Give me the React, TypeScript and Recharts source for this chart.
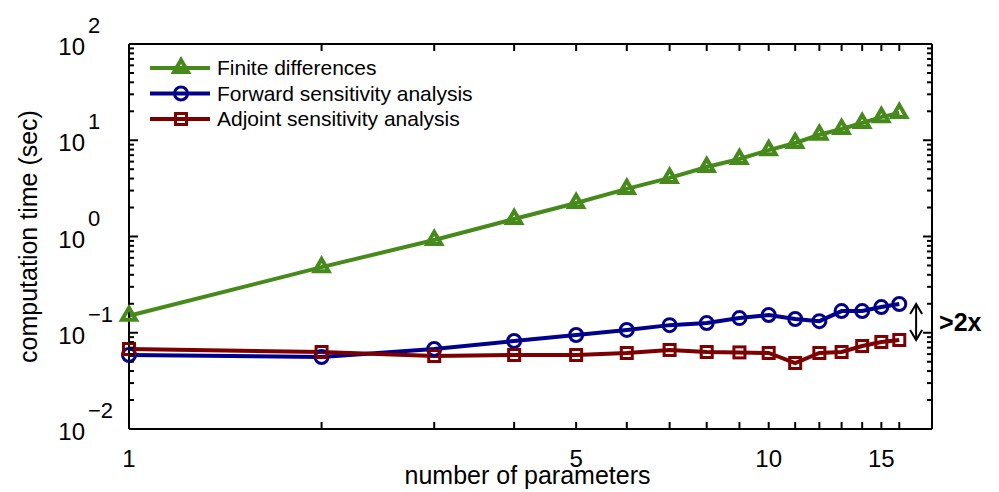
import React from "react";
import { Legend, Line, LineChart, ReferenceLine, XAxis, YAxis } from "recharts";

// number of parameters vs computation time (sec)
const params = [1, 2, 3, 4, 5, 6, 7, 8, 9, 10, 11, 12, 13, 14, 15, 16];
const finiteDiff = [0.15, 0.48, 0.92, 1.52, 2.23, 3.12, 4.06, 5.27, 6.39, 7.9, 9.36, 11.4, 13.1, 15.1, 17.4, 19.2];
const forwardSens = [0.0587, 0.056, 0.0678, 0.0821, 0.0948, 0.107, 0.12, 0.126, 0.142, 0.153, 0.139, 0.132, 0.168, 0.168, 0.185, 0.199];
const adjointSens = [0.0678, 0.0631, 0.0573, 0.0587, 0.0587, 0.0616, 0.0662, 0.0631, 0.0625, 0.0616, 0.0485, 0.0616, 0.0631, 0.0728, 0.0802, 0.0841];

const xTicks = [1, 2, 3, 4, 5, 6, 7, 8, 9, 10, 11, 12, 13, 14, 15, 16];
const xTickLabels = [1, 5, 10, 15];
const yTicks = [
  0.01, 0.02, 0.03, 0.04, 0.05, 0.06, 0.07, 0.08, 0.09,
  0.1, 0.2, 0.3, 0.4, 0.5, 0.6, 0.7, 0.8, 0.9,
  1, 2, 3, 4, 5, 6, 7, 8, 9,
  10, 20, 30, 40, 50, 60, 70, 80, 90,
  100,
];
const yMajorValues = [0.01, 0.1, 1, 10, 100];
const yMajorExponents = ["\u22122", "\u22121", "0", "1", "2"];

const ARROW_AT = 17;
const FONT = "'Liberation Sans', Arial, Helvetica, sans-serif";

const GREEN = "#468a1c";
const BLUE = "#00008c";
const RED = "#7c0000";

const series = [
  { key: "fd", name: "Finite differences", color: GREEN, marker: "triangle" },
  { key: "fwd", name: "Forward sensitivity analysis", color: BLUE, marker: "circle" },
  { key: "adj", name: "Adjoint sensitivity analysis", color: RED, marker: "square" },
];

const rows = params.map((n, i) => ({ n, fd: finiteDiff[i], fwd: forwardSens[i], adj: adjointSens[i] }));

function Marker({ cx, cy, kind, color }: { cx: number; cy: number; kind: string; color: string }) {
  if (kind === "triangle") {
    const s = 14;
    const h = (s * Math.sqrt(3)) / 2;
    const pts = `${cx},${cy - (2 * h) / 3} ${cx - s / 2},${cy + h / 3} ${cx + s / 2},${cy + h / 3}`;
    return <polygon points={pts} fill="none" stroke={color} strokeWidth={4} strokeLinejoin="miter" />;
  }
  if (kind === "circle") {
    return <circle cx={cx} cy={cy} r={6.5} fill="none" stroke={color} strokeWidth={3} />;
  }
  return <rect x={cx - 5.5} y={cy - 5.5} width={11} height={11} fill="none" stroke={color} strokeWidth={3} />;
}

const dotFor = (kind: string, color: string) => (p: any) => {
  if (p.cx == null || p.cy == null) return <g key={p.index} />;
  return (
    <g key={p.index}>
      <Marker cx={p.cx} cy={p.cy} kind={kind} color={color} />
    </g>
  );
};

// axis frame sits on the plot edge; ticks point inward
function BottomTick(p: any) {
  const v = p.payload.value;
  const x = Number(p.x);
  const y = Number(p.y);
  return (
    <g>
      <path d={`M${x},${y}V${y - 7}`} stroke="#000" strokeWidth={2} fill="none" />
      {xTickLabels.includes(v) && (
        <text x={x} y={y + 38} textAnchor="middle" fontSize={24} fontFamily={FONT} fill="#000">
          {v}
        </text>
      )}
    </g>
  );
}

function TopTick(p: any) {
  const x = Number(p.x);
  const y = Number(p.y);
  return <path d={`M${x},${y}V${y + 7}`} stroke="#000" strokeWidth={2} fill="none" />;
}

function LeftTick(p: any) {
  const idx = yMajorValues.indexOf(p.payload.value);
  const len = idx >= 0 ? 9 : 5;
  const x = Number(p.x);
  const y = Number(p.y);
  return (
    <g>
      <path d={`M${x},${y}H${x + len}`} stroke="#000" strokeWidth={2} fill="none" />
      {idx >= 0 && (
        <g fontFamily={FONT} fill="#000">
          <text x={x - 44} y={y + 11} textAnchor="end" fontSize={24}>
            10
          </text>
          <text x={x - 41} y={y - 11} textAnchor="start" fontSize={22}>
            {yMajorExponents[idx]}
          </text>
        </g>
      )}
    </g>
  );
}

function RightTick(p: any) {
  const len = yMajorValues.includes(p.payload.value) ? 9 : 5;
  const x = Number(p.x);
  const y = Number(p.y);
  return <path d={`M${x},${y}H${x - len}`} stroke="#000" strokeWidth={2} fill="none" />;
}

// double-headed arrow between the last forward and adjoint points, with the ratio note
function RatioArrow(p: any) {
  const x = p.x1;
  const top = Math.min(p.y1, p.y2);
  const bot = Math.max(p.y1, p.y2);
  return (
    <g>
      <line x1={x} y1={top} x2={x} y2={bot} stroke="#000" strokeWidth={2} />
      <polyline points={`${x - 6},${top + 10} ${x},${top} ${x + 6},${top + 10}`} fill="none" stroke="#000" strokeWidth={2} />
      <polyline points={`${x - 6},${bot - 10} ${x},${bot} ${x + 6},${bot - 10}`} fill="none" stroke="#000" strokeWidth={2} />
      <text x={x + 23} y={(top + bot) / 2 + 9} fontSize={25} fontWeight="bold" fontFamily={FONT} fill="#000">
        {">2x"}
      </text>
    </g>
  );
}

function LegendBox() {
  return (
    <svg width={360} height={80}>
      {series.map((s, i) => {
        const y = 13 + i * 25.5;
        return (
          <g key={s.key}>
            <line x1={0} y1={y} x2={60} y2={y} stroke={s.color} strokeWidth={4} />
            <Marker cx={31} cy={y} kind={s.marker} color={s.color} />
            <text x={67} y={y + 7} fontSize={21} fontFamily={FONT} fill="#000">
              {s.name}
            </text>
          </g>
        );
      })}
    </svg>
  );
}

const axisLine = { stroke: "#000", strokeWidth: 2 };

export default function App() {
  return (
    <div style={{ position: "absolute", left: 0, top: 0, width: 999, height: 492, background: "#fff" }}>
      <LineChart width={999} height={492} data={rows} margin={{ top: 43, right: 66, bottom: 62, left: 128 }}>
        <XAxis
          dataKey="n"
          type="number"
          scale="log"
          domain={[1, 18]}
          ticks={xTicks}
          interval={0}
          height={1}
          tickSize={0}
          tickMargin={0}
          tickLine={false}
          axisLine={axisLine}
          tick={<BottomTick />}
          label={{
            content: (lp: any) => {
              const vb = lp.viewBox;
              return (
                <text x={vb.x + vb.width / 2 - 3} y={vb.y + 55} textAnchor="middle" fontSize={25} fontFamily={FONT} fill="#000">
                  number of parameters
                </text>
              );
            },
          }}
        />
        <XAxis
          xAxisId="top"
          orientation="top"
          dataKey="n"
          type="number"
          scale="log"
          domain={[1, 18]}
          ticks={xTicks}
          interval={0}
          height={1}
          tickSize={0}
          tickMargin={0}
          tickLine={false}
          axisLine={axisLine}
          tick={<TopTick />}
        />
        <YAxis
          type="number"
          scale="log"
          domain={[0.01, 100]}
          ticks={yTicks}
          interval={0}
          width={1}
          tickSize={0}
          tickMargin={0}
          tickLine={false}
          axisLine={axisLine}
          tick={<LeftTick />}
          label={{
            content: (lp: any) => {
              const vb = lp.viewBox;
              const cy = vb.y + vb.height / 2;
              return (
                <text x={37} y={cy} transform={`rotate(-90 37 ${cy})`} textAnchor="middle" fontSize={25} fontFamily={FONT} fill="#000">
                  computation time (sec)
                </text>
              );
            },
          }}
        />
        <YAxis
          yAxisId="right"
          orientation="right"
          dataKey="fd"
          type="number"
          scale="log"
          domain={[0.01, 100]}
          ticks={yTicks}
          interval={0}
          width={1}
          tickSize={0}
          tickMargin={0}
          tickLine={false}
          axisLine={axisLine}
          tick={<RightTick />}
        />
        {series.map((s) => (
          <Line
            key={s.key}
            dataKey={s.key}
            name={s.name}
            stroke={s.color}
            strokeWidth={4}
            dot={dotFor(s.marker, s.color)}
            activeDot={false}
            isAnimationActive={false}
          />
        ))}
        <ReferenceLine
          segment={[
            { x: ARROW_AT, y: forwardSens[forwardSens.length - 1] },
            { x: ARROW_AT, y: adjointSens[adjointSens.length - 1] },
          ]}
          ifOverflow="visible"
          shape={<RatioArrow />}
        />
        <Legend
          layout="vertical"
          align="center"
          verticalAlign="middle"
          content={<LegendBox />}
          wrapperStyle={{ left: 150, top: 55, width: 360, height: 80 }}
        />
      </LineChart>
    </div>
  );
}
